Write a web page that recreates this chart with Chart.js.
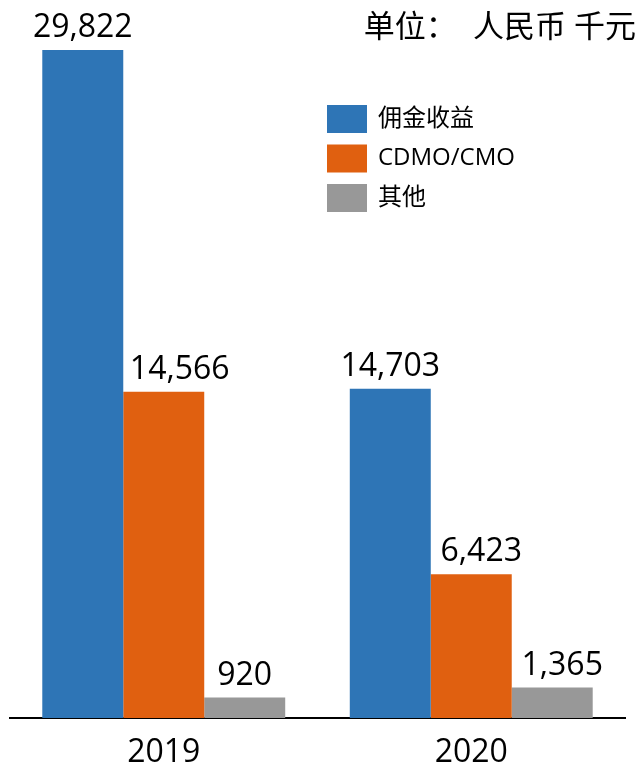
<!DOCTYPE html>
<html>
<head>
<meta charset="utf-8">
<script src="https://cdn.jsdelivr.net/npm/chart.js@4/dist/chart.umd.min.js"></script>
<style>
  body { margin: 0; background: #fff; }
  canvas { display: block; }
</style>
</head>
<body>
<canvas id="myChart" width="640" height="767"></canvas>
<script>
const years = ["2019", "2020"];
const seriesNames = ["佣金收益", "CDMO/CMO", "其他"];
const commission = [29822, 14703];
const cdmo = [14566, 6423];
const others = [920, 1365];
const colors = ["#2E75B6", "#E06010", "#989898"];
const unitText = "单位：  人民币 千元";

// small sideways nudges for value labels, per series then per year
const labelNudge = [[0, 0], [16, 10], [0, 10]];

const numFont = '"Open Sans", "Noto Sans", sans-serif';
const cjkFont = '"Open Sans", "Noto Sans CJK SC", sans-serif';

// value labels above every bar
const barLabels = {
  id: "barLabels",
  afterDatasetsDraw(chart) {
    const ctx = chart.ctx;
    ctx.save();
    ctx.font = `32px ${numFont}`;
    ctx.fillStyle = "#000";
    ctx.textAlign = "center";
    ctx.textBaseline = "bottom";
    chart.data.datasets.forEach((ds, i) => {
      chart.getDatasetMeta(i).data.forEach((bar, j) => {
        ctx.fillText(ds.data[j].toLocaleString("en-US"), bar.x + labelNudge[i][j], bar.y - 6);
      });
    });
    ctx.restore();
  },
};

// legend box inside the plot plus the unit note top right
const sideNotes = {
  id: "sideNotes",
  afterDraw(chart) {
    const ctx = chart.ctx;
    ctx.save();
    ctx.textBaseline = "middle";
    chart.data.datasets.forEach((ds, i) => {
      const y = 119 + i * 39.5;
      ctx.fillStyle = ds.backgroundColor;
      ctx.fillRect(327, y - 14, 40, 28);
      ctx.fillStyle = "#000";
      ctx.font = `24px ${cjkFont}`;
      ctx.textAlign = "left";
      ctx.fillText(ds.label, 378, y);
    });
    ctx.font = `31px ${cjkFont}`;
    ctx.textAlign = "right";
    ctx.fillText(unitText, 636, 28);
    ctx.restore();
  },
};

const ctx = document.getElementById("myChart").getContext("2d");
const chart = new Chart(ctx, {
  type: "bar",
  data: {
    labels: years,
    datasets: [
      { label: seriesNames[0], data: commission, backgroundColor: colors[0] },
      { label: seriesNames[1], data: cdmo, backgroundColor: colors[1] },
      { label: seriesNames[2], data: others, backgroundColor: colors[2] },
    ],
  },
  options: {
    responsive: false,
    animation: false,
    devicePixelRatio: 1,
    categoryPercentage: 0.79,
    barPercentage: 1,
    layout: { padding: { left: 10, right: 15, top: 50, bottom: 0 } },
    plugins: {
      legend: { display: false },
      tooltip: { enabled: false },
    },
    scales: {
      x: {
        grid: { display: false, drawTicks: false },
        border: { display: true, color: "#000", width: 2 },
        ticks: {
          color: "#000",
          padding: 19,
          font: { family: numFont, size: 32, lineHeight: 1 },
        },
        afterFit(scale) {
          scale.height = 49;
        },
      },
      y: {
        display: false,
        min: 0,
        max: 29822,
      },
    },
  },
  plugins: [barLabels, sideNotes],
});
</script>
</body>
</html>
